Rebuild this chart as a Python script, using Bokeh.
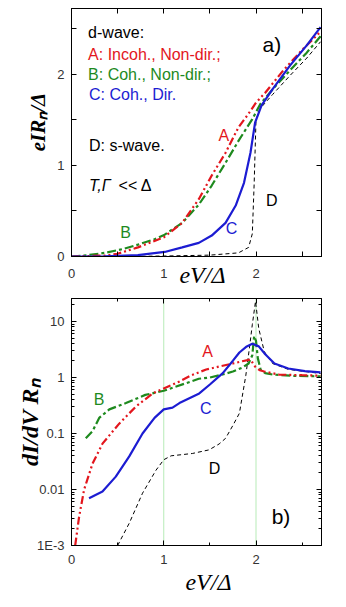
import math
from bokeh.plotting import figure
from bokeh.models import Label, Span, FixedTicker, LinearAxis, LogAxis, Range1d, CustomJSTickFormatter
from bokeh.layouts import column
from bokeh.embed import file_html
from bokeh.resources import INLINE

RED = "#e3161d"
GREEN = "#1e8a1e"
BLUE = "#1c1cd2"
BLACK = "#000000"

# ---- panel a) current-voltage curves ----
xA_iv = [0, 0.36, 0.5, 0.72, 1.0, 1.2, 1.38, 1.52, 1.67, 1.81, 1.92, 2.0, 2.1, 2.3, 2.5, 2.7]
yA_iv = [0, 0.01, 0.03, 0.1, 0.21, 0.37, 0.63, 0.89, 1.14, 1.42, 1.57, 1.69, 1.80, 2.05, 2.27, 2.47]
xB_iv = [0, 0.18, 0.36, 0.55, 0.72, 0.9, 1.01, 1.2, 1.38, 1.52, 1.67, 1.81, 1.96, 2.05, 2.2, 2.4, 2.55, 2.7]
yB_iv = [0, 0.015, 0.04, 0.08, 0.13, 0.19, 0.24, 0.37, 0.57, 0.78, 1.03, 1.27, 1.51, 1.68, 1.86, 2.08, 2.24, 2.42]
xC_iv = [0, 0.36, 0.72, 1.01, 1.2, 1.38, 1.52, 1.67, 1.78, 1.87, 1.94, 1.99, 2.06, 2.18, 2.37, 2.55, 2.7]
yC_iv = [0, 0.003, 0.015, 0.05, 0.10, 0.15, 0.23, 0.37, 0.56, 0.81, 1.14, 1.47, 1.66, 1.84, 2.10, 2.32, 2.52]
xD_iv = [0, 0.5, 1.0, 1.5, 1.81, 1.92, 1.96, 1.98, 2.0, 2.04, 2.18, 2.37, 2.55, 2.7]
yD_iv = [0, 0.0, 0.005, 0.015, 0.04, 0.1, 0.25, 0.8, 1.5, 1.62, 1.78, 1.99, 2.18, 2.36]

# ---- panel b) differential conductance ----
xA_g = [0.04, 0.083, 0.137, 0.228, 0.336, 0.517, 0.695, 0.88, 1.0, 1.17, 1.3, 1.46, 1.62, 1.75, 1.85, 1.94, 1.99, 2.04, 2.09, 2.25, 2.5, 2.7]
yA_g = [0.001, 0.0033, 0.01, 0.029, 0.066, 0.15, 0.30, 0.52, 0.64, 0.85, 1.1, 1.39, 1.6, 1.78, 1.95, 2.1, 1.57, 1.35, 1.28, 1.13, 1.1, 1.08]
xB_g = [0.155, 0.228, 0.3, 0.41, 0.59, 0.8, 1.0, 1.24, 1.38, 1.5, 1.65, 1.75, 1.85, 1.92, 1.96, 1.98, 2.0, 2.02, 2.05, 2.1, 2.18, 2.4, 2.7]
yB_g = [0.082, 0.11, 0.19, 0.27, 0.35, 0.49, 0.58, 0.79, 0.95, 1.0, 1.15, 1.28, 1.5, 1.78, 2.5, 5.5, 4.5, 2.2, 1.39, 1.2, 1.13, 1.07, 1.05]
xC_g = [0.19, 0.336, 0.48, 0.626, 0.77, 0.9, 1.0, 1.095, 1.17, 1.385, 1.5, 1.64, 1.75, 1.82, 1.9, 1.96, 2.03, 2.1, 2.2, 2.35, 2.53, 2.7]
yC_g = [0.007, 0.0092, 0.017, 0.039, 0.10, 0.19, 0.27, 0.29, 0.35, 0.52, 0.75, 1.2, 2.0, 2.8, 3.6, 4.0, 3.6, 2.6, 1.78, 1.45, 1.3, 1.24]
xD_g = [0.5, 0.626, 0.77, 0.915, 1.0, 1.08, 1.2, 1.31, 1.49, 1.6, 1.67, 1.75, 1.82, 1.89, 1.93, 1.96, 1.995, 2.03, 2.09, 2.18, 2.35, 2.7]
yD_g = [0.001, 0.0025, 0.0086, 0.022, 0.034, 0.04, 0.042, 0.044, 0.051, 0.065, 0.082, 0.14, 0.23, 1.1, 3.5, 8.8, 23, 7.5, 2.9, 1.78, 1.4, 1.18]

x_major = [0, 1, 2]
x_minor = [0.5, 1.5, 2.5]
y_major_iv = [0, 1, 2]
y_minor_iv = [0.5, 1.5, 2.5]
y_major_g = [0.001, 0.01, 0.1, 1, 10]
y_minor_g = [k * 10.0 ** d for d in range(-3, 2) for k in range(2, 10)]
gap_lines = [1, 2]

SANS = "Liberation Sans"
SERIF = "Liberation Serif"


def lbl(p, x, y, text, color=BLACK, size=16, font=SANS, style="normal",
        align="left", baseline="middle"):
    p.add_layout(Label(x=x, y=y, text=text, text_color=color,
                       text_font_size=f"{size}px", text_font=font,
                       text_font_style=style, text_align=align,
                       text_baseline=baseline))


def style_axis(ax, labels=True, minor_len=3, standoff=6):
    ax.major_tick_in = 5
    ax.major_tick_out = 0
    ax.minor_tick_in = minor_len
    ax.minor_tick_out = 0
    ax.axis_line_color = BLACK
    ax.major_tick_line_color = BLACK
    ax.minor_tick_line_color = BLACK
    ax.major_label_text_font = SANS
    ax.major_label_text_font_size = "13px"
    ax.major_label_text_color = "#333333"
    ax.major_label_standoff = standoff
    if not labels:
        ax.formatter = CustomJSTickFormatter(code="return '';")
        ax.major_label_standoff = 0


def style_title(ax, size, style, standoff):
    ax.axis_label_text_font = SERIF
    ax.axis_label_text_font_size = f"{size}px"
    ax.axis_label_text_font_style = style
    ax.axis_label_text_color = BLACK
    ax.axis_label_standoff = standoff


# ================= top panel =================
p1 = figure(frame_width=250, frame_height=248,
            x_range=Range1d(0, 2.71), y_range=Range1d(0, 2.725),
            output_backend="svg", toolbar_location=None,
            min_border_left=71, min_border_right=8,
            min_border_top=8, min_border_bottom=30)
p1.xgrid.visible = False
p1.ygrid.visible = False
p1.outline_line_color = BLACK

p1.xaxis.ticker = FixedTicker(ticks=x_major, minor_ticks=x_minor)
p1.yaxis.ticker = FixedTicker(ticks=y_major_iv, minor_ticks=y_minor_iv)
style_axis(p1.xaxis[0], True, minor_len=5, standoff=12)
style_axis(p1.yaxis[0], True, minor_len=5, standoff=7)
p1.xaxis.axis_label = "\u2002eV/Δ"
style_title(p1.xaxis[0], 24, "italic", -19)
p1.yaxis.axis_label = "\u2003eIRₙ/Δ"
style_title(p1.yaxis[0], 21, "bold italic", 4)

ax_top = LinearAxis(ticker=FixedTicker(ticks=x_major, minor_ticks=x_minor))
style_axis(ax_top, False, minor_len=5)
p1.add_layout(ax_top, "above")
ax_right = LinearAxis(ticker=FixedTicker(ticks=y_major_iv, minor_ticks=y_minor_iv))
style_axis(ax_right, False, minor_len=5)
p1.add_layout(ax_right, "right")

p1.line(xD_iv, yD_iv, line_color=BLACK, line_width=1, line_dash="4 3")
p1.line(xB_iv, yB_iv, line_color=GREEN, line_width=2.2, line_dash="9 3 3 3")
p1.line(xA_iv, yA_iv, line_color=RED, line_width=2.2, line_dash="8 3 2 3 2 3")
p1.line(xC_iv, yC_iv, line_color=BLUE, line_width=2.2)

lbl(p1, 0.18, 2.46, "d-wave:")
lbl(p1, 0.18, 2.22, "A: Incoh., Non-dir.;", RED)
lbl(p1, 0.18, 2.00, "B: Coh., Non-dir.;", GREEN)
lbl(p1, 0.19, 1.78, "C: Coh., Dir.", BLUE)
lbl(p1, 0.19, 1.22, "D: s-wave.")
lbl(p1, 0.19, 0.78, "T,Γ", style="italic")
lbl(p1, 0.51, 0.78, "<< Δ")
lbl(p1, 2.07, 2.33, "a)", size=21)
lbl(p1, 1.65, 1.33, "A", RED, align="center")
lbl(p1, 0.586, 0.264, "B", GREEN, align="center")
lbl(p1, 1.735, 0.31, "C", BLUE, align="center")
lbl(p1, 2.17, 0.615, "D", BLACK, align="center")

# ================= bottom panel =================
p2 = figure(frame_width=250, frame_height=247,
            x_range=Range1d(0, 2.71), y_range=Range1d(0.001, 25.8),
            y_axis_type="log",
            output_backend="svg", toolbar_location=None,
            min_border_left=71, min_border_right=8,
            min_border_top=8, min_border_bottom=45)
p2.xgrid.visible = False
p2.ygrid.visible = False
p2.outline_line_color = BLACK

fmt_js = ("if (tick < 0.005) return '1E-3';"
          "if (tick < 0.05) return '0.01';"
          "if (tick < 0.5) return '0.1';"
          "if (tick < 5) return '1';"
          "return '10';")
p2.xaxis.ticker = FixedTicker(ticks=x_major, minor_ticks=x_minor)
p2.yaxis.ticker = FixedTicker(ticks=y_major_g, minor_ticks=y_minor_g)
p2.yaxis.formatter = CustomJSTickFormatter(code=fmt_js)
style_axis(p2.xaxis[0], True, minor_len=3, standoff=9)
style_axis(p2.yaxis[0], True, minor_len=3, standoff=7)
p2.xaxis.axis_label = "\u2003eV/Δ"
style_title(p2.xaxis[0], 24, "italic", 2)
p2.yaxis.axis_label = "dI/dV Rₙ"
style_title(p2.yaxis[0], 24, "bold italic", -9)

ax_top2 = LinearAxis(ticker=FixedTicker(ticks=x_major, minor_ticks=x_minor))
style_axis(ax_top2, False, minor_len=3)
p2.add_layout(ax_top2, "above")
ax_right2 = LogAxis(ticker=FixedTicker(ticks=y_major_g, minor_ticks=y_minor_g))
style_axis(ax_right2, False, minor_len=3)
p2.add_layout(ax_right2, "right")

for loc in gap_lines:
    p2.add_layout(Span(location=loc, dimension="height", line_color="#6fd66f",
                       line_width=1, line_dash="1 1", level="underlay"))

p2.line(xD_g, yD_g, line_color=BLACK, line_width=1, line_dash="4 3")
p2.line(xB_g, yB_g, line_color=GREEN, line_width=2.2, line_dash="9 3 3 3")
p2.line(xA_g, yA_g, line_color=RED, line_width=2.2, line_dash="8 3 2 3 2 3")
p2.line(xC_g, yC_g, line_color=BLUE, line_width=2.2)

lbl(p2, 1.475, 2.9, "A", RED, align="center")
lbl(p2, 0.30, 0.40, "B", GREEN, align="center")
lbl(p2, 1.455, 0.28, "C", BLUE, align="center")
lbl(p2, 1.55, 0.0237, "D", BLACK, align="center")
lbl(p2, 2.17, 0.0033, "b)", size=21)

layout = column(p1, p2)
open("out.html", "w").write(file_html(layout, INLINE))
